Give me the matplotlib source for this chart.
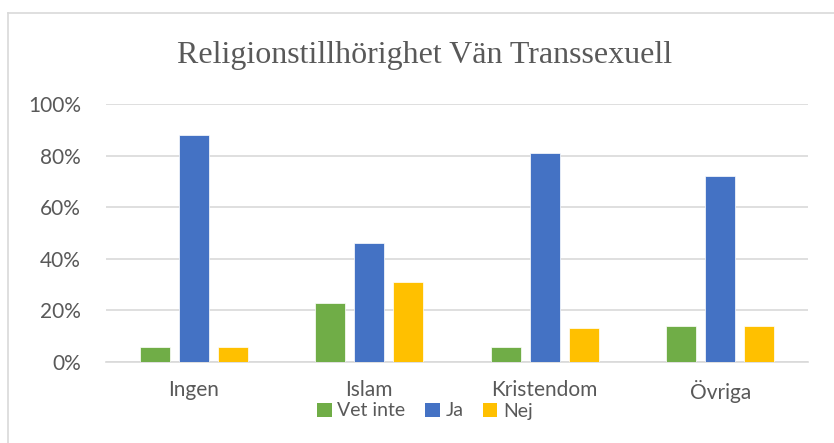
import matplotlib
matplotlib.use("Agg")
import matplotlib.pyplot as plt
import numpy as np
from matplotlib.patches import Patch
from matplotlib.lines import Line2D

categories = ["Ingen", "Islam", "Kristendom", "Övriga"]
series_names = ["Vet inte", "Ja", "Nej"]
vet_inte = [6, 23, 6, 14]
ja = [88, 46, 81, 72]
nej = [6, 31, 13, 14]
yticks = [0, 20, 40, 60, 80, 100]
ytick_labels = ["0%", "20%", "40%", "60%", "80%", "100%"]
title = "Religionstillhörighet Vän Transsexuell"
colors = ["#70AD47", "#4472C4", "#FFC000"]

W, H = 834, 443
fig = plt.figure(figsize=(W / 100, H / 100), dpi=100)
ax = fig.add_axes([106 / W, 1 - 362 / H, (808 - 106) / W, (362 - 104) / H])

x = np.arange(len(categories))
bw = 0.171
step = 0.222
for i, (vals, c) in enumerate(zip([vet_inte, ja, nej], colors)):
    ax.bar(x + (i - 1) * step, vals, width=bw, color=c, edgecolor="white",
           linewidth=0.5, zorder=3, label=series_names[i])

ax.set_xlim(-0.5, len(categories) - 0.5)
ax.set_ylim(0, 100)
ax.set_yticks(yticks)
ax.set_yticklabels(ytick_labels)
ax.set_xticks(x)
ax.set_xticklabels(categories)
ax.grid(axis="y", color="#d9d9d9", linewidth=1.2, zorder=0)
for s in ["top", "right", "left"]:
    ax.spines[s].set_visible(False)
ax.spines["bottom"].set_color("#d9d9d9")
ax.spines["bottom"].set_linewidth(1.2)
ax.tick_params(axis="both", length=0, colors="#595959", labelsize=15)
for lbl in ax.get_xticklabels() + ax.get_yticklabels():
    lbl.set_fontfamily("Lato")
ax.tick_params(axis="x", pad=13)
ax.tick_params(axis="y", pad=18)

fig.text(0.5 * (178 + 672) / W, 1 - 55 / H, title, ha="center", va="center",
         fontsize=23, color="#595959", family="Liberation Serif")

handles = [Patch(facecolor=c, edgecolor="none") for c in colors]
leg = fig.legend(handles, series_names, loc="center", bbox_to_anchor=(425 / W, 1 - 411 / H),
                 ncol=3, frameon=False, prop={"family": "Lato", "size": 14},
                 handlelength=0.75, handleheight=0.75, handletextpad=0.3, columnspacing=1.0,
                 borderpad=0)
for t in leg.get_texts():
    t.set_color("#595959")

# outer chart border (top and left visible)
fig.add_artist(Line2D([8 / W, 1], [1 - 13 / H, 1 - 13 / H], color="#d9d9d9", linewidth=1.2))
fig.add_artist(Line2D([8 / W, 8 / W], [0, 1 - 13 / H], color="#d9d9d9", linewidth=1.2))

fig.savefig("out.png", dpi=100, facecolor="white")
